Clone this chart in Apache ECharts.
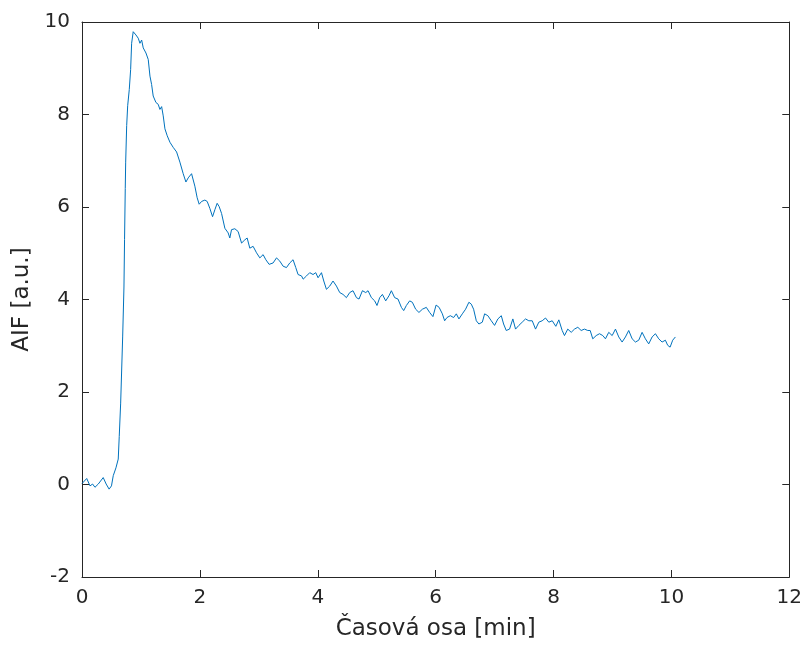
<!DOCTYPE html>
<html>
<head>
<meta charset="utf-8">
<title>AIF</title>
<script src="https://cdn.jsdelivr.net/npm/echarts@6/dist/echarts.min.js"></script>
<style>
  html, body { margin: 0; padding: 0; background: #fff; }
  #chart { width: 805px; height: 646px; }
</style>
</head>
<body>
<div id="chart"></div>
<script>
'use strict';

// time axis [min]
var timeMin = [
  0.000, 0.080, 0.107, 0.136, 0.180, 0.220, 0.276, 0.360, 0.410, 0.460,
  0.500, 0.530, 0.576, 0.615, 0.632, 0.656, 0.690, 0.712, 0.722, 0.734,
  0.741, 0.758, 0.775, 0.802, 0.825, 0.842, 0.869, 0.886, 0.915, 0.954,
  0.983, 1.012, 1.039, 1.085, 1.124, 1.153, 1.181, 1.208, 1.254, 1.293,
  1.322, 1.351, 1.378, 1.407, 1.446, 1.492, 1.547, 1.605, 1.661, 1.717,
  1.763, 1.802, 1.859, 1.915, 1.954, 1.988, 2.029, 2.085, 2.124, 2.169,
  2.215, 2.254, 2.293, 2.327, 2.368, 2.424, 2.480, 2.508, 2.537, 2.593,
  2.649, 2.707, 2.763, 2.802, 2.847, 2.903, 2.961, 3.017, 3.073, 3.119,
  3.175, 3.242, 3.300, 3.356, 3.412, 3.469, 3.525, 3.581, 3.627, 3.666,
  3.724, 3.753, 3.809, 3.864, 3.920, 3.966, 4.005, 4.063, 4.102, 4.147,
  4.203, 4.259, 4.317, 4.373, 4.429, 4.486, 4.542, 4.598, 4.656, 4.700,
  4.758, 4.814, 4.853, 4.910, 4.966, 5.005, 5.051, 5.097, 5.153, 5.208,
  5.249, 5.305, 5.361, 5.419, 5.458, 5.503, 5.559, 5.605, 5.661, 5.717,
  5.775, 5.842, 5.898, 5.954, 6.008, 6.059, 6.114, 6.153, 6.192, 6.249,
  6.305, 6.351, 6.395, 6.453, 6.508, 6.564, 6.605, 6.644, 6.690, 6.734,
  6.792, 6.831, 6.886, 6.944, 7.000, 7.056, 7.114, 7.153, 7.198, 7.254,
  7.310, 7.356, 7.412, 7.469, 7.525, 7.581, 7.639, 7.695, 7.751, 7.808,
  7.864, 7.920, 7.978, 8.039, 8.090, 8.147, 8.186, 8.242, 8.300, 8.356,
  8.412, 8.469, 8.525, 8.581, 8.622, 8.666, 8.724, 8.780, 8.836, 8.881,
  8.937, 8.995, 9.051, 9.107, 9.164, 9.220, 9.276, 9.334, 9.390, 9.446,
  9.503, 9.559, 9.615, 9.673, 9.729, 9.785, 9.842, 9.898, 9.937, 9.978,
  10.022, 10.068
];

// AIF [a.u.]
var aifValues = [
  0.02, 0.13, 0.10, -0.03, 0.01, -0.06, 0.01, 0.15, 0.01, -0.10,
  -0.03, 0.19, 0.36, 0.55, 1.04, 1.76, 3.19, 4.27, 5.30, 6.40,
  6.97, 7.76, 8.19, 8.54, 8.97, 9.54, 9.79, 9.83, 9.72, 9.65,
  9.54, 9.61, 9.44, 9.33, 9.19, 8.83, 8.65, 8.40, 8.26, 8.22,
  8.11, 8.17, 7.97, 7.69, 7.54, 7.40, 7.29, 7.19, 6.97, 6.72,
  6.54, 6.63, 6.72, 6.45, 6.20, 6.06, 6.12, 6.15, 6.12, 5.97,
  5.79, 5.94, 6.08, 6.01, 5.86, 5.54, 5.44, 5.33, 5.51, 5.53,
  5.47, 5.22, 5.29, 5.33, 5.11, 5.15, 5.01, 4.90, 4.97, 4.86,
  4.76, 4.79, 4.90, 4.83, 4.72, 4.69, 4.79, 4.86, 4.69, 4.54,
  4.51, 4.44, 4.51, 4.58, 4.54, 4.58, 4.47, 4.58, 4.40, 4.22,
  4.29, 4.40, 4.29, 4.15, 4.11, 4.04, 4.15, 4.19, 4.04, 4.01,
  4.19, 4.15, 4.19, 4.04, 3.97, 3.87, 4.04, 4.11, 3.97, 4.08,
  4.19, 4.04, 4.01, 3.83, 3.76, 3.87, 3.97, 3.94, 3.79, 3.72,
  3.79, 3.83, 3.72, 3.63, 3.88, 3.83, 3.69, 3.54, 3.61, 3.65,
  3.61, 3.69, 3.58, 3.69, 3.79, 3.94, 3.90, 3.79, 3.54, 3.47,
  3.51, 3.69, 3.65, 3.54, 3.44, 3.58, 3.65, 3.47, 3.33, 3.36,
  3.58, 3.36, 3.44, 3.51, 3.58, 3.54, 3.54, 3.36, 3.51, 3.54,
  3.60, 3.51, 3.54, 3.42, 3.56, 3.33, 3.22, 3.36, 3.29, 3.36,
  3.40, 3.33, 3.36, 3.33, 3.33, 3.15, 3.22, 3.26, 3.22, 3.15,
  3.29, 3.22, 3.36, 3.19, 3.08, 3.19, 3.33, 3.15, 3.08, 3.12,
  3.29, 3.15, 3.04, 3.19, 3.26, 3.15, 3.08, 3.12, 3.01, 2.97,
  3.12, 3.19
];

var xTicks = { min: 0, max: 12, interval: 2 };
var yTicks = { min: -2, max: 10, interval: 2 };

var axisColor = '#262626';
var fontName = 'DejaVu Sans';

var points = timeMin.map(function(t, i) {
  return [t, aifValues[i]];
});

// matlab-like axis: box, inner ticks
function boxAxis(base, extra) {
  var ax = {
    type: 'value',
    min: base.min,
    max: base.max,
    interval: base.interval,
    splitLine: { show: false },
    axisLine: { show: true, onZero: false, lineStyle: { color: axisColor, width: 1 } },
    axisTick: { show: true, inside: true, length: 7, lineStyle: { color: axisColor, width: 1 } },
    axisLabel: { show: false }
  };
  for (var k in extra) { ax[k] = extra[k]; }
  return ax;
}

var myChart = echarts.init(document.getElementById('chart'), null, { renderer: 'canvas' });
var option = {
  animation: false,
  backgroundColor: '#fff',
  grid: { left: 82, right: 15, top: 22, bottom: 64, containLabel: false },
  xAxis: [
    boxAxis(xTicks, {
      position: 'bottom',
      name: 'Časová osa [min]',
      nameLocation: 'middle',
      nameGap: 41,
      nameTextStyle: { color: axisColor, fontSize: 23, fontFamily: fontName },
      axisLabel: { show: true, color: axisColor, fontSize: 20, fontFamily: fontName, margin: 11 }
    }),
    boxAxis(xTicks, { position: 'top' })
  ],
  yAxis: [
    boxAxis(yTicks, {
      position: 'left',
      name: 'AIF [a.u.]',
      nameLocation: 'middle',
      nameGap: 40,
      nameTextStyle: { color: axisColor, fontSize: 23, fontFamily: fontName },
      axisLabel: { show: true, color: axisColor, fontSize: 20, fontFamily: fontName, margin: 12 }
    }),
    boxAxis(yTicks, { position: 'right' })
  ],
  series: [
    {
      type: 'line',
      xAxisIndex: 0,
      yAxisIndex: 0,
      data: points,
      showSymbol: false,
      symbol: 'none',
      lineStyle: { color: '#0072BD', width: 1 },
      silent: true
    }
  ]
};

myChart.setOption(option);
</script>
</body>
</html>
